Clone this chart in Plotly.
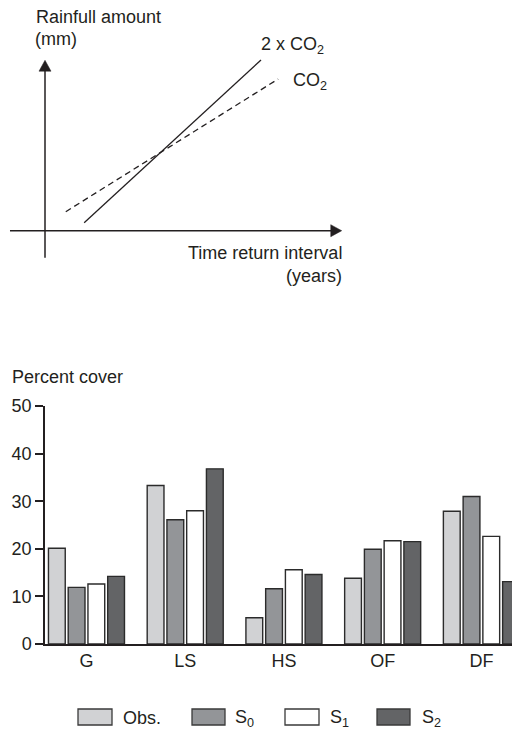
import plotly.graph_objects as go

# ---------------- data ----------------
categories = ["G", "LS", "HS", "OF", "DF"]
obs = [20.1, 33.3, 5.5, 13.8, 27.9]
s0 = [11.9, 26.1, 11.6, 19.9, 31.0]
s1 = [12.6, 28.0, 15.6, 21.7, 22.6]
s2 = [14.2, 36.8, 14.6, 21.5, 13.1]
series_names = ["Obs.", "S<sub>0</sub>", "S<sub>1</sub>", "S<sub>2</sub>"]
y_ticks = [0, 10, 20, 30, 40, 50]

# conceptual diagram lines (x: return interval, y: rainfall), arbitrary units
line_2co2_x = [1.32, 7.28]
line_2co2_y = [0.47, 10.06]
line_co2_x = [0.70, 7.86]
line_co2_y = [1.12, 8.94]

# ---------------- style ----------------
W, H = 512, 730
INK = "#231f20"
FONT = "Liberation Sans, Arial, Helvetica, sans-serif"
colors = ["#d1d2d4", "#939598", "#ffffff", "#636466"]
outline = "#2b2b2b"


def xp(px):
    return px / W


def yp(py):
    return 1 - py / H


fig = go.Figure()

# ---- bar chart ----
for name, vals, col in zip(series_names, [obs, s0, s1, s2], colors):
    fig.add_trace(go.Bar(
        x=categories, y=vals, name=name,
        marker=dict(color=col, line=dict(color=outline, width=1.4)),
        xaxis="x", yaxis="y", showlegend=False, hoverinfo="y",
    ))

# ---- conceptual diagram ----
fig.add_trace(go.Scatter(
    x=line_2co2_x, y=line_2co2_y, mode="lines",
    line=dict(color=INK, width=1.3),
    xaxis="x2", yaxis="y2", showlegend=False,
))
fig.add_trace(go.Scatter(
    x=line_co2_x, y=line_co2_y, mode="lines",
    line=dict(color=INK, width=1.3, dash="6px,4px"),
    xaxis="x2", yaxis="y2", showlegend=False,
))

ux = 29.67  # px per unit (top diagram x)
uy = 16.97  # px per unit (top diagram y)

shapes = []
# top axes with arrowheads
shapes.append(dict(type="line", xref="x2", yref="y2", x0=0, x1=0, y0=-1.59, y1=9.5,
                   line=dict(color=INK, width=1.5)))
shapes.append(dict(type="path", xref="x2", yref="y2",
                   path=f"M {-6/ux} {9.4} L 0 {10.04} L {6/ux} {9.4} Z",
                   fillcolor=INK, line=dict(color=INK, width=0.5)))
shapes.append(dict(type="line", xref="x2", yref="y2", x0=-1.18, x1=9.7, y0=0, y1=0,
                   line=dict(color=INK, width=1.5)))
shapes.append(dict(type="path", xref="x2", yref="y2",
                   path=f"M 9.63 {-6/uy} L 10.0 0 L 9.63 {6/uy} Z",
                   fillcolor=INK, line=dict(color=INK, width=0.5)))

# manual legend
legend_boxes = [(78, 112), (192, 225), (285, 319), (377, 410)]
legend_text_x = [121, 233, 328, 420]
for (x0, x1), col in zip(legend_boxes, colors):
    shapes.append(dict(type="rect", xref="paper", yref="paper",
                       x0=xp(x0), x1=xp(x1), y0=yp(725), y1=yp(709),
                       fillcolor=col, line=dict(color="#3a3a3a", width=1.3)))

annotations = []
for tx, name in zip(legend_text_x, series_names):
    annotations.append(dict(text=name, x=xp(tx), y=yp(718), xref="paper", yref="paper",
                            xanchor="left", yanchor="middle", showarrow=False,
                            font=dict(size=18, color=INK, family=FONT)))

def label(text, x, y, xanchor="left", size=18):
    annotations.append(dict(text=text, x=xp(x), y=yp(y), xref="paper", yref="paper",
                            xanchor=xanchor, yanchor="middle", showarrow=False,
                            font=dict(size=size, color=INK, family=FONT)))

label("Rainfull amount", 34, 17)
label("(mm)", 33, 39)
label("2 x CO<sub>2</sub>", 259, 46)
label("CO<sub>2</sub>", 291, 82)
label("Time return interval", 344, 253, xanchor="right")
label("(years)", 344, 276, xanchor="right")
label("Percent cover", 10, 377)

fig.update_layout(
    width=W, height=H,
    margin=dict(l=0, r=0, t=0, b=0, pad=0, autoexpand=False),
    paper_bgcolor="white", plot_bgcolor="white",
    font=dict(family=FONT, color=INK, size=18),
    barmode="group", bargap=0.2, bargroupgap=0.15,
    shapes=shapes, annotations=annotations,
    xaxis=dict(domain=[xp(45), 1], range=[-0.42, 4.31], showgrid=False, zeroline=False,
               showline=True, linecolor=INK, linewidth=1.5, ticks="",
               tickfont=dict(size=18, color=INK, family=FONT), fixedrange=True,
               anchor="y", automargin=False),
    yaxis=dict(domain=[yp(644), yp(406)], range=[0, 50], tickvals=y_ticks,
               showgrid=False, zeroline=False, showline=True, linecolor=INK, linewidth=1.5,
               ticks="outside", ticklen=8, tickwidth=1.5, tickcolor=INK,
               tickfont=dict(size=18, color=INK, family=FONT), fixedrange=True,
               anchor="x", automargin=False),
    xaxis2=dict(domain=[0, 1], range=[-45 / ux, 467 / ux], visible=False, fixedrange=True,
                anchor="y2"),
    yaxis2=dict(domain=[yp(300), 1], range=[(230.7 - 300) / uy, 230.7 / uy], visible=False,
                fixedrange=True, anchor="x2"),
)

fig.write_html(
    "out.html",
    config={"displayModeBar": False, "responsive": False},
    post_script="document.body.style.margin='0px';document.body.style.overflow='hidden';",
)
